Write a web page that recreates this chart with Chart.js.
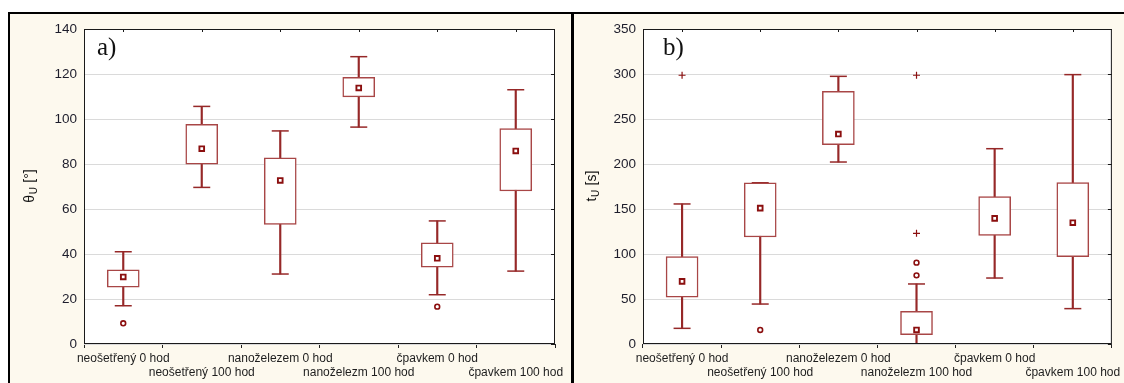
<!DOCTYPE html>
<html>
<head>
<meta charset="utf-8">
<script src="https://cdn.jsdelivr.net/npm/chart.js@4.4.1/dist/chart.umd.min.js"></script>
<style>
html,body{margin:0;padding:0;background:#fff;width:1124px;height:383px;overflow:hidden;}
.panel{position:absolute;background:#fdf9ee;box-sizing:border-box;}
#p1{left:8px;top:12px;width:565px;height:400px;border-left:2px solid #000;border-top:2px solid #000;}
#p2{left:571px;top:12px;width:560px;height:400px;border-left:3px solid #000;border-top:2px solid #000;}
canvas{position:absolute;top:0;}
#c1{left:0;}
#c2{left:573px;}
</style>
</head>
<body>
<div class="panel" id="p1"></div>
<div class="panel" id="p2"></div>
<canvas id="c1" width="571" height="383"></canvas>
<canvas id="c2" width="551" height="383"></canvas>
<script>
// ---------- DATA ----------
const categories = ['neošetřený 0 hod','neošetřený 100 hod','nanoželezem 0 hod','nanoželezm 100 hod','čpavkem 0 hod','čpavkem 100 hod'];

// panel a) θU [°]
const aTicks = [0,20,40,60,80,100,120,140];
const aWhiskerLow  = [17.0, 69.6, 31.1,  96.4, 21.9, 32.4];
const aBoxLow      = [25.3, 79.9, 53.2, 109.8, 34.1, 68.0];
const aBoxHigh     = [33.0, 97.6, 82.7, 118.5, 45.0, 95.7];
const aWhiskerHigh = [41.0,105.6, 94.7, 127.7, 54.7, 113.0];
const aMean        = [29.8, 86.8, 72.7, 113.8, 38.1, 85.8];
const aOutlierCat  = [0, 4];
const aOutlierVal  = [9.2, 16.6];
const aExtremeCat  = [];
const aExtremeVal  = [];

// panel b) tU [s]
const bTicks = [0,50,100,150,200,250,300,350];
const bWhiskerLow  = [17.4,  44.4, 202.2,  0.0,  73.3,  39.3];
const bBoxLow      = [52.0, 118.9, 221.5, 10.4, 120.7,  97.0];
const bBoxHigh     = [97.0, 179.2, 280.7, 36.3, 163.7, 179.3];
const bWhiskerHigh = [155.6,179.2, 297.4, 66.7, 217.0, 299.3];
const bMean        = [69.6, 151.0, 233.3, 15.6, 139.6, 134.8];
const bOutlierCat  = [1, 3, 3];
const bOutlierVal  = [15.6, 90.4, 76.3];
const bExtremeCat  = [0, 3, 3];
const bExtremeVal  = [298.6, 123.0, 298.6];

// ---------- STYLE ----------
const BOX_COLOR = '#a84646';
const WHISK_COLOR = '#962828';
const MARK_COLOR = '#8b0f0f';
const FONT = '"Liberation Sans", Arial, sans-serif';

const framePlugin = {
  id: 'frame',
  afterDraw(chart) {
    const o = chart.options.plugins.frame;
    const {ctx, chartArea: a, scales} = chart;
    ctx.save();
    ctx.strokeStyle = '#1a1a1a';
    ctx.lineWidth = 1;
    ctx.strokeRect(a.left + 0.5, a.top + 0.5, a.right - a.left - 1, a.bottom - a.top - 1);
    ctx.beginPath();
    const xs = scales.x;
    xs.ticks.forEach((t, i) => {
      const px = Math.round(xs.getPixelForTick(i)) + 0.5;
      ctx.moveTo(px, a.top); ctx.lineTo(px, a.top + 3);
    });
    const ys = scales.y;
    ys.ticks.forEach((t, i) => {
      const py = Math.round(ys.getPixelForTick(i)) + 0.5;
      ctx.moveTo(a.right, py); ctx.lineTo(a.right - 4, py);
    });
    ctx.stroke();

    // panel label
    ctx.fillStyle = '#111';
    ctx.font = '25px "Liberation Serif", "Times New Roman", serif';
    ctx.textBaseline = 'alphabetic';
    ctx.textAlign = 'left';
    ctx.fillText(o.panel, o.panelX, 55);

    // y axis title with subscript
    ctx.translate(o.titleX, (a.top + a.bottom) / 2);
    ctx.rotate(-Math.PI / 2);
    ctx.textBaseline = 'middle';
    ctx.font = '14px ' + FONT;
    const w1 = ctx.measureText(o.main).width;
    const w3 = ctx.measureText(o.rest).width;
    ctx.font = '10px ' + FONT;
    const w2 = ctx.measureText(o.sub).width;
    let s = -(w1 + w2 + w3) / 2;
    ctx.fillStyle = '#111';
    ctx.font = '14px ' + FONT;
    ctx.fillText(o.main, s, 0);
    ctx.font = '10px ' + FONT;
    ctx.fillText(o.sub, s + w1 + 0.5, 4);
    ctx.font = '14px ' + FONT;
    ctx.fillText(o.rest, s + w1 + w2 + 1, 0);
    ctx.restore();
  }
};

const bgPlugin = {
  id: 'bg',
  beforeDraw(chart) {
    const {ctx, chartArea: a} = chart;
    ctx.save();
    ctx.fillStyle = '#ffffff';
    ctx.fillRect(a.left, a.top, a.right - a.left, a.bottom - a.top);
    ctx.restore();
  }
};

function pts(cats, vals) {
  return cats.map((c, i) => ({x: categories[c], y: vals[i]}));
}

function makeChart(id, d) {
  const datasets = [
    { type: 'bar', label: 'whisker', data: d.wl.map((v, i) => [v, d.wh[i]]),
      backgroundColor: WHISK_COLOR, borderWidth: 0, barThickness: 1.5, grouped: false, order: 5 },
    { type: 'bar', label: 'box', data: d.bl.map((v, i) => [v, d.bh[i]]),
      backgroundColor: '#ffffff', borderColor: BOX_COLOR, borderWidth: 1.5, borderSkipped: false,
      barThickness: 32, grouped: false, order: 4 },
    { type: 'line', label: 'capLow', data: d.wl, showLine: false, pointStyle: 'line',
      pointRadius: 8.5, pointBorderWidth: 1.5, borderColor: WHISK_COLOR, order: 6 },
    { type: 'line', label: 'capHigh', data: d.wh, showLine: false, pointStyle: 'line',
      pointRadius: 8.5, pointBorderWidth: 1.5, borderColor: WHISK_COLOR, order: 6 },
    { type: 'line', label: 'mean', data: d.mean, showLine: false, pointStyle: 'rect',
      pointRadius: 3.3, pointBorderWidth: 1.9, borderColor: MARK_COLOR, backgroundColor: '#ffffff',
      pointBackgroundColor: '#ffffff', order: 1 },
    { type: 'line', label: 'outlier', data: pts(d.oc, d.ov), showLine: false, pointStyle: 'circle',
      pointRadius: 2.4, pointBorderWidth: 1.6, borderColor: MARK_COLOR, pointBackgroundColor: '#ffffff', order: 1 },
    { type: 'line', label: 'extreme', data: pts(d.ec, d.ev), showLine: false, pointStyle: 'cross',
      pointRadius: 3.5, pointBorderWidth: 1.2, borderColor: MARK_COLOR, order: 1 }
  ];
  return new Chart(document.getElementById(id), {
    type: 'bar',
    data: { labels: categories, datasets },
    plugins: [bgPlugin, framePlugin],
    options: {
      responsive: false,
      animation: false,
      events: [],
      layout: { padding: { left: 0, right: d.padRight, top: 29, bottom: 0 } },
      plugins: {
        legend: { display: false },
        tooltip: { enabled: false },
        frame: d.frame
      },
      scales: {
        x: {
          type: 'category',
          offset: true,
          border: { display: false },
          grid: { display: true, drawOnChartArea: false, drawTicks: true, tickLength: 4, color: '#222', lineWidth: 1 },
          ticks: {
            autoSkip: false, maxRotation: 0, minRotation: 0, padding: 3,
            color: '#1e1e1e', font: { family: FONT, size: 12, lineHeight: 1.2 },
            callback: function (v, i) {
              const l = this.getLabelForValue(v);
              return i % 2 === 0 ? [l, ''] : ['', l];
            }
          },
          afterFit: s => { s.height = 39; }
        },
        y: {
          min: d.ticks[0], max: d.ticks[d.ticks.length - 1],
          afterBuildTicks: s => { s.ticks = d.ticks.map(v => ({ value: v })); },
          border: { display: false },
          grid: { color: '#dadada', lineWidth: 1, drawTicks: false },
          ticks: { padding: 7, color: '#1d1d2b', font: { family: FONT, size: 13.5 } },
          afterFit: s => { s.width = d.yWidth; }
        }
      }
    }
  });
}

makeChart('c1', {
  wl: aWhiskerLow, bl: aBoxLow, bh: aBoxHigh, wh: aWhiskerHigh, mean: aMean,
  oc: aOutlierCat, ov: aOutlierVal, ec: aExtremeCat, ev: aExtremeVal,
  ticks: aTicks, yWidth: 84, padRight: 16,
  frame: { panel: 'a)', panelX: 97, main: 'θ', sub: 'U', rest: ' [°]', titleX: 30 }
});
makeChart('c2', {
  wl: bWhiskerLow, bl: bBoxLow, bh: bBoxHigh, wh: bWhiskerHigh, mean: bMean,
  oc: bOutlierCat, ov: bOutlierVal, ec: bExtremeCat, ev: bExtremeVal,
  ticks: bTicks, yWidth: 70, padRight: 5,
  frame: { panel: 'b)', panelX: 90, main: 't', sub: 'U', rest: ' [s]', titleX: 19 }
});
</script>
</body>
</html>
